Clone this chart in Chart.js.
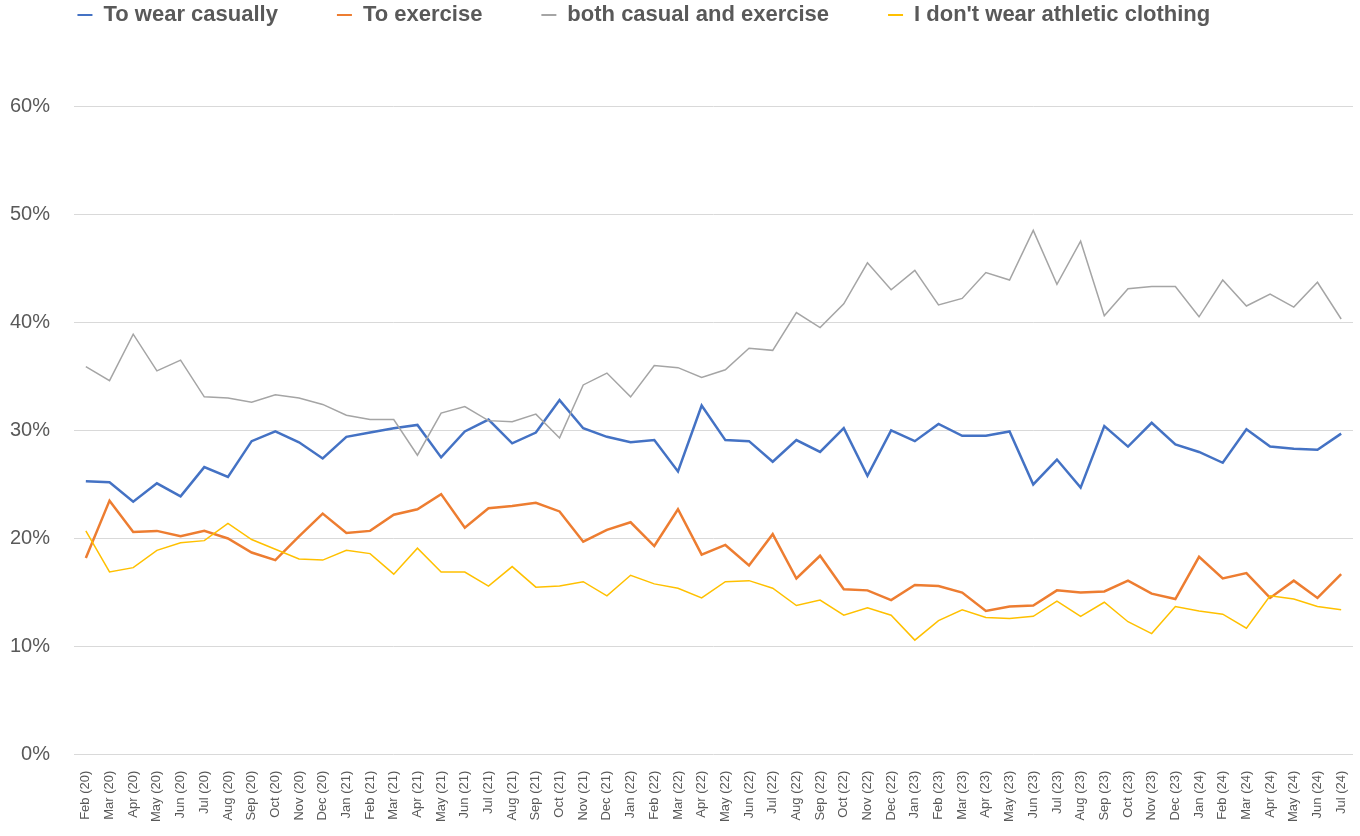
<!DOCTYPE html>
<html>
<head>
<meta charset="utf-8">
<script src="https://cdn.jsdelivr.net/npm/chart.js@4.4.1/dist/chart.umd.min.js"></script>
<style>
html,body{margin:0;padding:0;background:#fff;}
#wrap{width:1360px;height:836px;}
</style>
</head>
<body>
<div id="wrap"><canvas id="c" width="1360" height="836"></canvas></div>
<script>
const months = ["Feb (20)","Mar (20)","Apr (20)","May (20)","Jun (20)","Jul (20)","Aug (20)","Sep (20)","Oct (20)","Nov (20)","Dec (20)",
"Jan (21)","Feb (21)","Mar (21)","Apr (21)","May (21)","Jun (21)","Jul (21)","Aug (21)","Sep (21)","Oct (21)","Nov (21)","Dec (21)",
"Jan (22)","Feb (22)","Mar (22)","Apr (22)","May (22)","Jun (22)","Jul (22)","Aug (22)","Sep (22)","Oct (22)","Nov (22)","Dec (22)",
"Jan (23)","Feb (23)","Mar (23)","Apr (23)","May (23)","Jun (23)","Jul (23)","Aug (23)","Sep (23)","Oct (23)","Nov (23)","Dec (23)",
"Jan (24)","Feb (24)","Mar (24)","Apr (24)","May (24)","Jun (24)","Jul (24)"];

const wearCasually = [25.3,25.2,23.4,25.1,23.9,26.6,25.7,29.0,29.9,28.9,
27.4,29.4,29.8,30.2,30.5,27.5,29.9,31.0,28.8,29.8,
32.8,30.2,29.4,28.9,29.1,26.2,32.3,29.1,29.0,27.1,
29.1,28.0,30.2,25.8,30.0,29.0,30.6,29.5,29.5,29.9,
25.0,27.3,24.7,30.4,28.5,30.7,28.7,28.0,27.0,30.1,
28.5,28.3,28.2,29.7];

const toExercise = [18.2,23.5,20.6,20.7,20.2,20.7,20.0,18.7,18.0,20.2,
22.3,20.5,20.7,22.2,22.7,24.1,21.0,22.8,23.0,23.3,
22.5,19.7,20.8,21.5,19.3,22.7,18.5,19.4,17.5,20.4,
16.3,18.4,15.3,15.2,14.3,15.7,15.6,15.0,13.3,13.7,
13.8,15.2,15.0,15.1,16.1,14.9,14.4,18.3,16.3,16.8,
14.5,16.1,14.5,16.7];

const bothCasualExercise = [35.9,34.6,38.9,35.5,36.5,33.1,33.0,32.6,33.3,33.0,
32.4,31.4,31.0,31.0,27.7,31.6,32.2,30.9,30.8,31.5,
29.3,34.2,35.3,33.1,36.0,35.8,34.9,35.6,37.6,37.4,
40.9,39.5,41.7,45.5,43.0,44.8,41.6,42.2,44.6,43.9,
48.5,43.5,47.5,40.6,43.1,43.3,43.3,40.5,43.9,41.5,
42.6,41.4,43.7,40.3];

const noAthletic = [20.7,16.9,17.3,18.9,19.6,19.8,21.4,19.9,19.0,18.1,
18.0,18.9,18.6,16.7,19.1,16.9,16.9,15.6,17.4,15.5,
15.6,16.0,14.7,16.6,15.8,15.4,14.5,16.0,16.1,15.4,
13.8,14.3,12.9,13.6,12.9,10.6,12.4,13.4,12.7,12.6,
12.8,14.2,12.8,14.1,12.3,11.2,13.7,13.3,13.0,11.7,
14.7,14.4,13.7,13.4];

const seriesNames = ["To wear casually","To exercise","both casual and exercise","I don't wear athletic clothing"];
const yTicks = [0,10,20,30,40,50,60];

const TEXT = '#595959';
const FONT = "'Liberation Sans', Arial, sans-serif";

const legendSpacer = {
  id: 'legendSpacer',
  beforeLayout(chart) {
    const lg = chart.legend;
    if (lg && !lg._patched) {
      const orig = lg.fit;
      lg.fit = function () { orig.call(this); this.height += 70; };
      lg._patched = true;
    }
  }
};

new Chart(document.getElementById('c'), {
  type: 'line',
  data: {
    labels: months,
    datasets: [
      {label: seriesNames[0], data: wearCasually, borderColor: '#4472C4', backgroundColor: '#4472C4', borderWidth: 2.5, order: 4},
      {label: seriesNames[1], data: toExercise, borderColor: '#ED7D31', backgroundColor: '#ED7D31', borderWidth: 2.5, order: 3},
      {label: seriesNames[2], data: bothCasualExercise, borderColor: '#A5A5A5', backgroundColor: '#A5A5A5', borderWidth: 1.5, order: 2},
      {label: seriesNames[3], data: noAthletic, borderColor: '#FFC000', backgroundColor: '#FFC000', borderWidth: 1.5, order: 1}
    ]
  },
  options: {
    responsive: false,
    animation: false,
    devicePixelRatio: 1,
    elements: { point: { radius: 0, hoverRadius: 0 }, line: { tension: 0 } },
    layout: { padding: { left: 8, right: 7, top: 0, bottom: -2 } },
    plugins: {
      tooltip: { enabled: false },
      legend: {
        position: 'top',
        align: 'center',
        labels: {
          color: TEXT,
          font: { family: FONT, size: 22, weight: 'bold' },
          usePointStyle: true,
          pointStyleWidth: 15,
          padding: 4,
          sort: (a, b) => a.datasetIndex - b.datasetIndex,
          generateLabels(chart) {
            const items = Chart.defaults.plugins.legend.labels.generateLabels(chart);
            const n = chart.data.datasets.length;
            items.forEach(it => {
              it.pointStyle = 'line';
              it.lineWidth = 2;
              it.text = it.text + (it.datasetIndex < n - 1 ? '         ' : '            ');
            });
            return items;
          }
        }
      }
    },
    scales: {
      x: {
        offset: true,
        afterFit(scale) { scale.paddingRight = 0; scale.paddingLeft = 0; },
        grid: { display: false, drawTicks: false },
        border: { display: false },
        ticks: {
          color: TEXT,
          font: { family: FONT, size: 13 },
          autoSkip: false,
          maxRotation: 90,
          minRotation: 90,
          padding: 16
        }
      },
      y: {
        min: yTicks[0],
        max: yTicks[yTicks.length - 1],
        afterBuildTicks(scale) { scale.ticks = yTicks.map(v => ({value: v})); },
        afterFit(scale) { scale.width = 66; },
        grid: { color: '#D9D9D9', lineWidth: 1, drawTicks: false },
        border: { display: false },
        ticks: {
          color: TEXT,
          font: { family: FONT, size: 20 },
          padding: 24,
          callback: v => v + '%'
        }
      }
    }
  },
  plugins: [legendSpacer]
});
</script>
</body>
</html>
